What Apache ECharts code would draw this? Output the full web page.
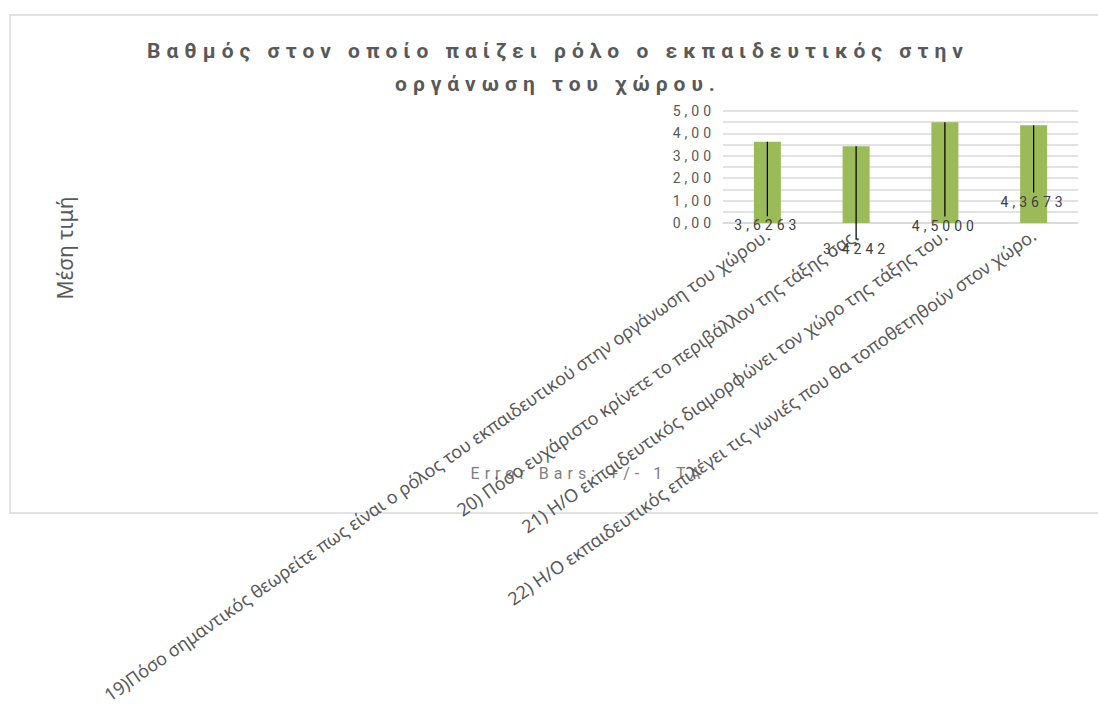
<!DOCTYPE html>
<html>
<head>
<meta charset="utf-8">
<script src="https://cdn.jsdelivr.net/npm/echarts@6/dist/echarts.min.js"></script>
<style>
  html, body { margin: 0; padding: 0; background: #ffffff; }
  #chart { width: 1098px; height: 709px; }
  /* Character spacing for the spaced-out text groups (marker family names) */
  #chart text[style*="spaced-wide"] { letter-spacing: 6px; }
  #chart text[style*="spaced-note"] { letter-spacing: 5px; }
  #chart text[style*="spaced-mid"] { letter-spacing: 4px; }
</style>
</head>
<body>
<div id="chart"></div>
<script>
// Questionnaire items (category axis)
const categories = [
  '19)Πόσο σημαντικός θεωρείτε πως είναι ο ρόλος του εκπαιδευτικού στην οργάνωση του χώρου.',
  '20) Πόσο ευχάριστο κρίνετε το περιβάλλον της τάξης σας.',
  '21) Η/Ο εκπαιδευτικός διαμορφώνει τον χώρο της τάξης του.',
  '22) Η/Ο εκπαιδευτικός επιλέγει τις γωνιές που θα τοποθετηθούν στον χώρο.'
];
// Mean score per item
const meanValues = [3.6263, 3.4242, 4.5000, 4.3673];
// Length of the downward error bar per item
const errorMinus = [3.33, 4.17, 4.21, 3.01];

const titleText = 'Βαθμός στον οποίο παίζει ρόλο ο εκπαιδευτικός στην\nοργάνωση του χώρου.';
const yAxisTitle = 'Μέση τιμή';
const errorNote = 'Error Bars: +/- 1 ΤΑ';

const fmtComma = (v, d) => v.toFixed(d).replace('.', ',');

const GRID_COLOR = '#d9d9d9';
const TEXT_GRAY = '#595959';

const errorData = categories.map((c, i) => [i, meanValues[i], meanValues[i] - errorMinus[i]]);

const chart = echarts.init(document.getElementById('chart'), null, { renderer: 'svg' });

chart.setOption({
  animation: false,
  backgroundColor: '#ffffff',
  grid: { left: 723, right: 20, top: 111, bottom: 486 },
  xAxis: {
    type: 'category',
    data: categories,
    axisLine: { show: true, lineStyle: { color: GRID_COLOR, width: 1.5 } },
    axisTick: { show: false },
    axisLabel: {
      interval: 0,
      rotate: 35,
      margin: 10,
      color: TEXT_GRAY,
      fontSize: 18,
      fontFamily: 'Noto Sans'
    }
  },
  yAxis: {
    type: 'value',
    min: 0,
    max: 5,
    interval: 1,
    axisLine: { show: false },
    axisTick: { show: false },
    axisLabel: {
      margin: 8,
      color: TEXT_GRAY,
      fontSize: 14,
      fontFamily: 'Roboto, spaced-mid',
      formatter: v => fmtComma(v, 2)
    },
    splitLine: { show: true, lineStyle: { color: GRID_COLOR, width: 1.5 } },
    minorTick: { show: false, splitNumber: 2 },
    minorSplitLine: { show: true, lineStyle: { color: GRID_COLOR, width: 1.5 } }
  },
  series: [
    {
      type: 'bar',
      data: meanValues,
      barWidth: 27,
      itemStyle: { color: '#9bbb59' },
      silent: true
    },
    {
      type: 'custom',
      data: errorData,
      silent: true,
      z: 5,
      renderItem: (params, api) => {
        const idx = api.value(0);
        const v = api.value(1);
        const low = api.value(2);
        const top = api.coord([idx, v]);
        const bot = api.coord([idx, low]);
        return {
          type: 'group',
          children: [
            {
              type: 'line',
              shape: { x1: top[0], y1: top[1], x2: top[0], y2: bot[1] },
              style: { stroke: '#000000', lineWidth: 1.25 }
            },
            {
              type: 'text',
              x: top[0],
              y: bot[1] + 2,
              style: {
                text: fmtComma(v, 4),
                align: 'center',
                verticalAlign: 'top',
                fill: '#404040',
                font: '14px Roboto, spaced-mid'
              }
            }
          ]
        };
      }
    }
  ],
  graphic: [
    {
      type: 'rect',
      z: -10,
      shape: { x: 10, y: 15, width: 1100, height: 498 },
      style: { fill: 'none', stroke: GRID_COLOR, lineWidth: 1.5 },
      silent: true
    },
    {
      type: 'text',
      x: 558,
      y: 67.5,
      style: {
        text: titleText,
        align: 'center',
        verticalAlign: 'middle',
        lineHeight: 33,
        fill: TEXT_GRAY,
        font: 'bold 21px Roboto, spaced-wide'
      },
      silent: true
    },
    {
      type: 'text',
      x: 65,
      y: 248,
      rotation: Math.PI / 2,
      style: {
        text: yAxisTitle,
        align: 'center',
        verticalAlign: 'middle',
        fill: TEXT_GRAY,
        font: '21px "Noto Sans"'
      },
      silent: true
    },
    {
      type: 'text',
      x: 588,
      y: 473,
      style: {
        text: errorNote,
        align: 'center',
        verticalAlign: 'middle',
        fill: '#7f7f7f',
        font: '16px Roboto, spaced-note'
      },
      silent: true
    }
  ]
});
</script>
</body>
</html>
